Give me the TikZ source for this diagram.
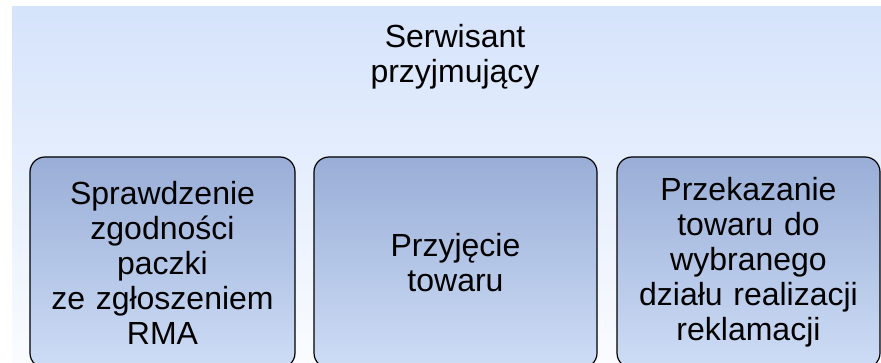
\documentclass[tikz,border=0pt]{standalone}
\usepackage{fontspec}
\setmainfont{Liberation Sans}
\begin{document}
\begin{tikzpicture}[x=1pt,y=-1pt,
  bigfont/.style={font=\fontsize{32}{35}\selectfont},
  taskbox/.style={draw=black, line width=1.2pt, rounded corners=15pt,
    top color=boxtop, bottom color=boxbot, minimum height=211pt,
    inner sep=0pt, align=center, bigfont},
  titlenode/.style={inner sep=0pt, align=center, bigfont}]
\definecolor{bgtop}{HTML}{D5E3FB}
\definecolor{bgbot}{HTML}{FAFCFF}
\definecolor{boxtop}{HTML}{99AED7}
\definecolor{boxbot}{HTML}{CEDDF6}
\useasboundingbox (0,0) rectangle (881,363);
\clip (0,0) rectangle (881,363);
\fill[white] (0,0) rectangle (881,363);
\shade[top color=bgtop, bottom color=bgbot] (12,7) rectangle (881,363);
\node[titlenode] (title) at (455,56.5) {Serwisant\\przyjmujący};
\node[taskbox, minimum width=265pt, text width=265pt] (b1) at (162.5,262.5)
  {Sprawdzenie\\zgodności\\paczki\\ze zgłoszeniem\\RMA};
\node[taskbox, minimum width=283pt, text width=283pt] (b2) at (455.5,262.5)
  {Przyjęcie\\towaru};
\node[taskbox, minimum width=263pt, text width=263pt] (b3) at (748.5,262.5)
  {Przekazanie\\towaru do\\wybranego\\działu realizacji\\reklamacji};
\end{tikzpicture}
\end{document}
